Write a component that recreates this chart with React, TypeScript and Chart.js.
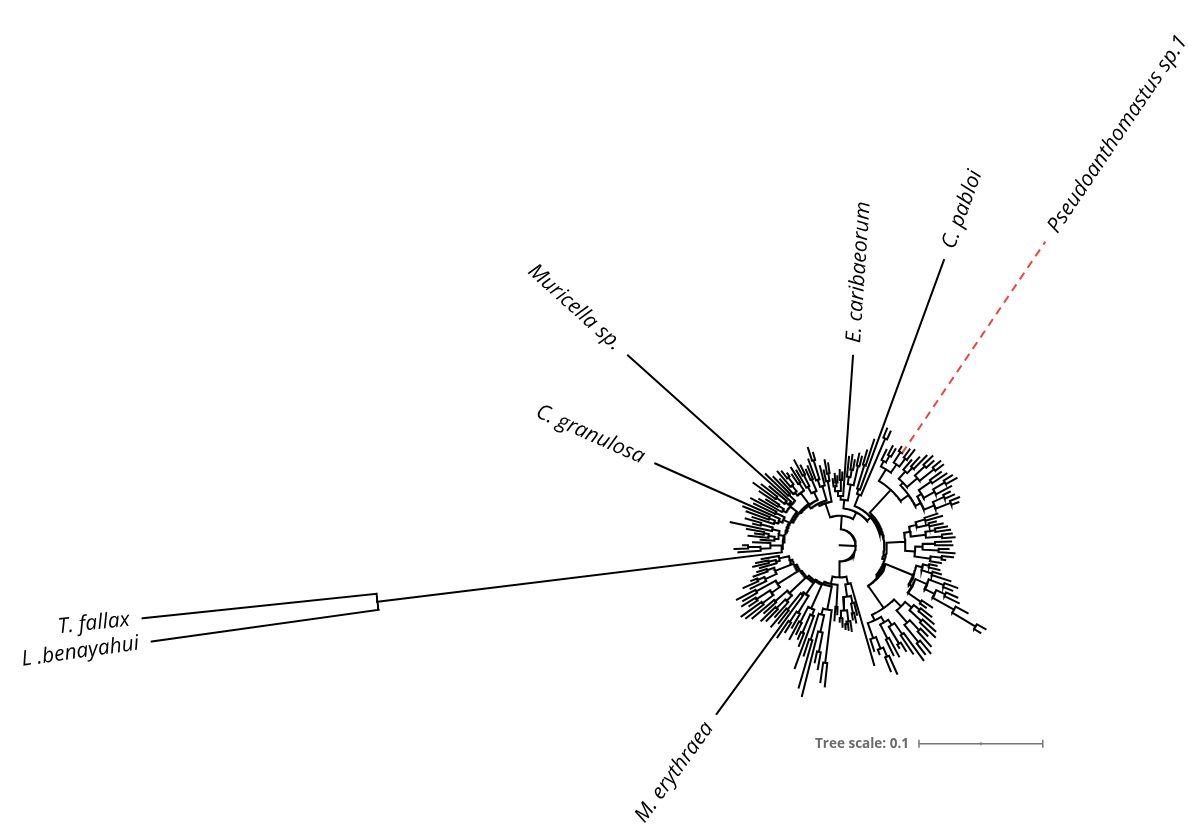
import React, { useEffect, useRef } from "react";
import { Chart, registerables } from "chart.js";

Chart.register(...registerables);

// ---------------- DATA (branch lengths, substitutions/site) ----------------
// Leaves are listed in circular order. "Tips" = root-to-tip distance of each leaf.
// "Splits" = depth of the most recent common ancestor of each pair of neighbouring leaves.

// Upper-left part of the tree (outgroup, C. granulosa and Muricella clades)
const upperLeftTips = [
  0.561, 0.566,
  0.082, 0.085, 0.078, 0.07,
  0.064, 0.074, 0.069, 0.076, 0.09, 0.072, 0.079,
  0.074, 0.08, 0.084, 0.163, 0.077, 0.081,
  0.075, 0.07, 0.078, 0.086, 0.08, 0.074, 0.23, 0.083, 0.077,
  0.072, 0.078, 0.076, 0.072, 0.069, 0.074,
  0.07, 0.078, 0.072, 0.067, 0.069,
  0.074, 0.083, 0.078, 0.066,
  0.062, 0.07, 0.067,
];
const upperLeftSplits = [
  0.376, 0.047,
  0.064, 0.074, 0.056, 0.046,
  0.053, 0.058, 0.062, 0.05, 0.056, 0.066, 0.045,
  0.056, 0.061, 0.053, 0.05, 0.058, 0.044,
  0.054, 0.059, 0.051, 0.064, 0.056, 0.053, 0.051, 0.058, 0.042,
  0.056, 0.062, 0.069, 0.053, 0.06, 0.041,
  0.054, 0.064, 0.048, 0.058, 0.038,
  0.056, 0.072, 0.05, 0.036,
  0.053, 0.059,
];

// Right part of the tree (E. caribaeorum, C. pabloi, Pseudoanthomastus clades)
const rightTips = [
  0.054, 0.058, 0.056, 0.061, 0.059, 0.154, 0.072, 0.074, 0.07, 0.076, 0.074,
  0.08, 0.09, 0.246, 0.102, 0.101,
  0.086, 0.091, 0.09, 0.094, 0.297, 0.096, 0.098, 0.09, 0.096, 0.101, 0.104, 0.102,
  0.106, 0.106, 0.101, 0.104, 0.107, 0.109, 0.102, 0.099, 0.101, 0.104, 0.102,
  0.083, 0.086, 0.08, 0.085, 0.088, 0.09, 0.091, 0.093, 0.09, 0.091, 0.088, 0.093, 0.092, 0.086, 0.083,
  0.08, 0.083, 0.085, 0.094, 0.101, 0.098, 0.104, 0.107, 0.117, 0.136, 0.134, 0.09, 0.086,
  0.094, 0.099, 0.104, 0.107, 0.102, 0.11, 0.114, 0.112, 0.115, 0.106, 0.101, 0.096, 0.102, 0.099, 0.114, 0.11, 0.094, 0.09,
];
const rightSplits = [
  0.048, 0.051, 0.044, 0.053, 0.04, 0.037, 0.056, 0.062, 0.05, 0.066, 0.03,
  0.068, 0.048, 0.044, 0.094, 0.034,
  0.077, 0.083, 0.072, 0.09, 0.08, 0.088, 0.061, 0.08, 0.086, 0.072, 0.094, 0.083, 0.098, 0.069, 0.09, 0.078,
  0.099, 0.088, 0.074, 0.093, 0.083, 0.096, 0.036,
  0.072, 0.064, 0.074, 0.058, 0.078, 0.07, 0.083, 0.053, 0.077, 0.067, 0.08, 0.061, 0.083, 0.074, 0.038,
  0.074, 0.069, 0.078, 0.064, 0.09, 0.077, 0.094, 0.086, 0.106, 0.128, 0.067, 0.08, 0.04,
  0.083, 0.077, 0.09, 0.07, 0.094, 0.083, 0.101, 0.062, 0.088, 0.077, 0.093, 0.072, 0.085, 0.067, 0.098, 0.09, 0.08,
];

// Lower part of the tree (M. erythraea and neighbours)
const lowerTips = [
  0.101, 0.058, 0.064, 0.061, 0.07, 0.069, 0.068, 0.066, 0.062,
  0.056, 0.061,
  0.115, 0.112, 0.102, 0.097, 0.126, 0.12, 0.094,
  0.106, 0.088, 0.083, 0.08, 0.086,
  0.077, 0.083, 0.09, 0.169, 0.08, 0.086,
  0.078, 0.085, 0.088, 0.082, 0.092,
  0.096, 0.098, 0.088, 0.093, 0.09, 0.094,
  0.08, 0.085, 0.077, 0.074, 0.07,
  0.067, 0.072, 0.069, 0.064,
];
const lowerSplits = [
  0.032, 0.048, 0.056, 0.042, 0.062, 0.064, 0.053, 0.059, 0.026,
  0.05, 0.032,
  0.096, 0.053, 0.088, 0.072, 0.058, 0.08, 0.034,
  0.061, 0.077, 0.056, 0.07, 0.035,
  0.064, 0.074, 0.048, 0.05, 0.067, 0.037,
  0.062, 0.072, 0.056, 0.069, 0.038,
  0.078, 0.067, 0.08, 0.059, 0.077, 0.04,
  0.066, 0.072, 0.056, 0.062, 0.042,
  0.053, 0.059, 0.05,
];

// Depths joining the three parts: upper-left + right, then root
const partJoins = [0.024, 0.013];

// Labelled leaves (index in circular order) and their names
const labelLeaves = [0, 1, 16, 25, 51, 59, 66, 157];
const labelNames = [
  "L .benayahui",
  "T. fallax",
  "C. granulosa",
  "Muricella sp.",
  "E. caribaeorum",
  "C. pabloi",
  "Pseudoanthomastus sp.1",
  "M. erythraea",
];
const highlightedLeaf = 66;

const treeScaleValue = 0.1;
const treeScaleLabel = "Tree scale: 0.1";

// ---------------- LAYOUT ----------------
const W = 1188;
const H = 836;
const CENTER_X = 842;
const CENTER_Y = 547;
const PX_PER_UNIT = 1250;
const START_ANGLE = 188;
const LABEL_GAP = 13;
const SCALE_BAR_X = 0.064;
const SCALE_BAR_Y = -0.1608;

const allTips = [...upperLeftTips, ...rightTips, ...lowerTips];
const allSplits = [...upperLeftSplits, partJoins[0], ...rightSplits, partJoins[1], ...lowerSplits];
const STEP = 360 / allTips.length;
const leafAngle = (i: number) => START_ANGLE - i * STEP;

type TNode = { depth: number; angle: number; children: TNode[]; leaf: number };

function buildTree(lo: number, hi: number): TNode {
  if (lo === hi) return { depth: allTips[lo], angle: leafAngle(lo), children: [], leaf: lo };
  let m = Infinity;
  for (let k = lo; k < hi; k++) m = Math.min(m, allSplits[k]);
  const children: TNode[] = [];
  let s = lo;
  for (let k = lo; k < hi; k++) {
    if (allSplits[k] === m) {
      children.push(buildTree(s, k));
      s = k + 1;
    }
  }
  children.push(buildTree(s, hi));
  const angle = (children[0].angle + children[children.length - 1].angle) / 2;
  return { depth: m, angle, children, leaf: -1 };
}

const pol = (r: number, a: number) => ({
  x: r * Math.cos((a * Math.PI) / 180),
  y: r * Math.sin((a * Math.PI) / 180),
});

function buildSegments() {
  const black: { x: number; y: number }[] = [];
  const red: { x: number; y: number }[] = [];
  const gap = { x: NaN, y: NaN };
  const root = buildTree(0, allTips.length - 1);
  black.push(pol(0, root.angle), pol(root.depth, root.angle), gap);
  const walk = (n: TNode) => {
    if (!n.children.length) return;
    const a0 = n.children[0].angle;
    const a1 = n.children[n.children.length - 1].angle;
    const steps = Math.max(2, Math.ceil(Math.abs(a1 - a0) / 0.5) + 1);
    for (let k = 0; k < steps; k++) black.push(pol(n.depth, a0 + ((a1 - a0) * k) / (steps - 1)));
    black.push(gap);
    for (const c of n.children) {
      const target = c.leaf === highlightedLeaf ? red : black;
      target.push(pol(n.depth, c.angle), pol(c.depth, c.angle), gap);
      walk(c);
    }
  };
  walk(root);
  return { black, red };
}

export default function App() {
  const ref = useRef<HTMLCanvasElement | null>(null);

  useEffect(() => {
    if (!ref.current) return;
    const { black, red } = buildSegments();

    const labelPlugin = {
      id: "treeLabels",
      afterDatasetsDraw(chart: any) {
        const { ctx } = chart;
        const xs = chart.scales.x;
        const ys = chart.scales.y;
        ctx.save();
        ctx.font = 'italic 21px "Open Sans"';
        ctx.fillStyle = "#000";
        ctx.textBaseline = "middle";
        labelLeaves.forEach((leaf, i) => {
          const a = leafAngle(leaf);
          const p = pol(allTips[leaf], a);
          const px = xs.getPixelForValue(p.x);
          const py = ys.getPixelForValue(p.y);
          const rad = (a * Math.PI) / 180;
          const norm = ((a % 360) + 360) % 360;
          ctx.save();
          ctx.translate(px, py);
          if (norm > 90 && norm < 270) {
            ctx.rotate(-rad + Math.PI);
            ctx.textAlign = "right";
            ctx.fillText(labelNames[i], -LABEL_GAP, 0);
          } else {
            ctx.rotate(-rad);
            ctx.textAlign = "left";
            ctx.fillText(labelNames[i], LABEL_GAP, 0);
          }
          ctx.restore();
        });
        ctx.font = 'bold 13.5px "Open Sans"';
        ctx.fillStyle = "#6b6b6b";
        ctx.textAlign = "right";
        ctx.fillText(
          treeScaleLabel,
          xs.getPixelForValue(SCALE_BAR_X) - 10,
          ys.getPixelForValue(SCALE_BAR_Y)
        );
        ctx.restore();
      },
    };

    const chart = new Chart(ref.current, {
      type: "scatter",
      data: {
        datasets: [
          {
            data: black,
            showLine: true,
            borderColor: "#000",
            borderWidth: 2,
            pointRadius: 0,
            borderCapStyle: "square",
            spanGaps: false,
          } as any,
          {
            data: red,
            showLine: true,
            borderColor: "#e8473b",
            borderWidth: 2,
            borderDash: [8, 6],
            pointRadius: 0,
            spanGaps: false,
          } as any,
          {
            data: [
              { x: SCALE_BAR_X, y: SCALE_BAR_Y },
              { x: SCALE_BAR_X + treeScaleValue / 2, y: SCALE_BAR_Y },
              { x: SCALE_BAR_X + treeScaleValue, y: SCALE_BAR_Y },
            ],
            showLine: true,
            borderColor: "#777",
            borderWidth: 1.5,
            pointStyle: "line",
            pointRotation: 90,
            pointRadius: [4, 1.5, 4],
            pointBorderColor: "#777",
            pointBorderWidth: 1.5,
          } as any,
        ],
      },
      options: {
        animation: false,
        responsive: false,
        events: [],
        layout: { padding: 0 },
        scales: {
          x: {
            type: "linear",
            display: false,
            min: -CENTER_X / PX_PER_UNIT,
            max: (W - CENTER_X) / PX_PER_UNIT,
          },
          y: {
            type: "linear",
            display: false,
            min: -(H - CENTER_Y) / PX_PER_UNIT,
            max: CENTER_Y / PX_PER_UNIT,
          },
        },
        plugins: {
          legend: { display: false },
          tooltip: { enabled: false },
          title: { display: false },
        },
      },
      plugins: [labelPlugin],
    });
    return () => chart.destroy();
  }, []);

  return (
    <div
      style={{
        position: "fixed",
        left: 0,
        top: 0,
        width: W,
        height: H,
        background: "#fff",
      }}
    >
      <canvas
        ref={ref}
        width={W}
        height={H}
        style={{ display: "block", width: W, height: H }}
      />
    </div>
  );
}
